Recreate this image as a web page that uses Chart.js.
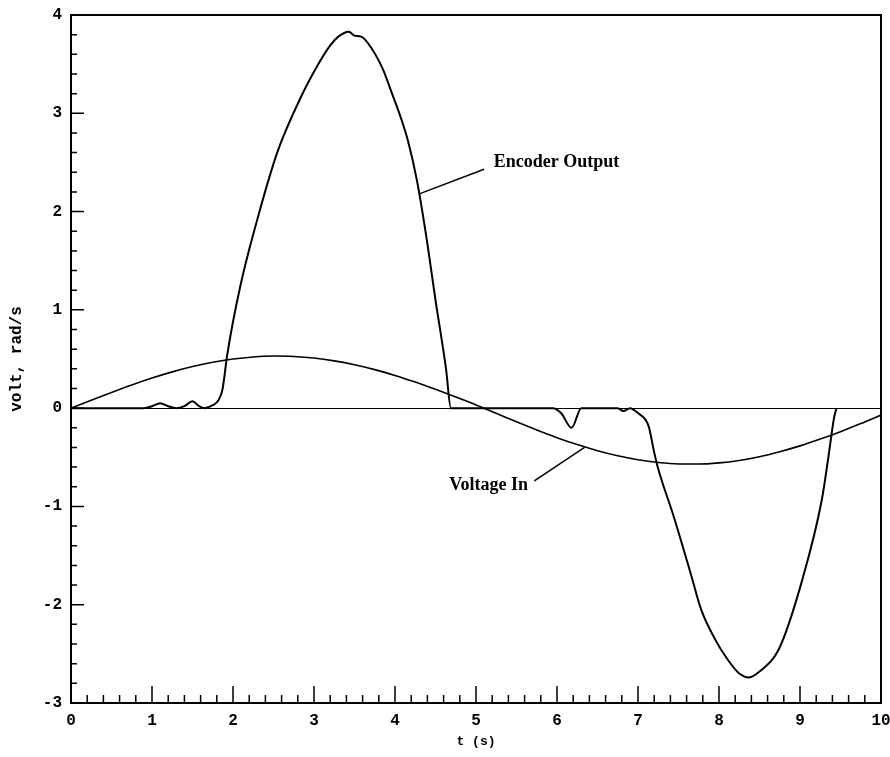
<!DOCTYPE html>
<html>
<head>
<meta charset="utf-8">
<script src="https://cdn.jsdelivr.net/npm/chart.js@4.4.1/dist/chart.umd.min.js"></script>
<style>
  html, body { margin: 0; padding: 0; background: #fff; }
</style>
</head>
<body>
<canvas id="encoderChart" width="890" height="757"></canvas>
<script>
// Encoder output (rad/s)
const encT = [0, 0.9, 1.0, 1.1, 1.2, 1.3, 1.4, 1.5, 1.58, 1.65, 1.75, 1.82, 1.87, 1.93, 2.09, 2.3, 2.55, 2.83, 3.04, 3.2, 3.3, 3.43, 3.5, 3.58, 3.66, 3.85, 3.95, 4.07, 4.16, 4.27, 4.38, 4.5, 4.63, 4.69, 5.95, 6.05, 6.18, 6.3, 6.75, 6.82, 6.9, 7.0, 7.13, 7.2, 7.25, 7.44, 7.66, 7.78, 7.95, 8.1, 8.25, 8.37, 8.5, 8.74, 9.02, 9.27, 9.35, 9.42, 9.45];
const encV = [0, 0, 0.02, 0.05, 0.02, 0, 0.02, 0.07, 0.02, 0, 0.03, 0.08, 0.19, 0.55, 1.24, 1.92, 2.61, 3.15, 3.48, 3.69, 3.78, 3.83, 3.79, 3.78, 3.72, 3.45, 3.23, 2.96, 2.72, 2.32, 1.78, 1.1, 0.4, 0, 0, -0.05, -0.2, 0, 0, -0.03, 0, -0.05, -0.18, -0.45, -0.62, -1.1, -1.71, -2.05, -2.35, -2.55, -2.7, -2.74, -2.68, -2.45, -1.77, -0.93, -0.5, -0.1, 0];

// Voltage in (volt)
const voltT = [0, 0.25, 0.5, 0.75, 1.0, 1.25, 1.5, 1.75, 2.0, 2.25, 2.5, 2.75, 3.0, 3.25, 3.5, 3.75, 4.0, 4.25, 4.5, 4.75, 5.0, 5.25, 5.5, 5.75, 6.0, 6.25, 6.5, 6.75, 7.0, 7.25, 7.5, 7.75, 8.0, 8.25, 8.5, 8.75, 9.0, 9.25, 9.5, 9.75, 10.0];
const voltV = [0, 0.081, 0.16, 0.236, 0.306, 0.369, 0.423, 0.467, 0.5, 0.521, 0.53, 0.526, 0.51, 0.481, 0.442, 0.392, 0.333, 0.265, 0.191, 0.113, 0.033, -0.053, -0.139, -0.222, -0.3, -0.371, -0.433, -0.485, -0.525, -0.553, -0.568, -0.569, -0.557, -0.532, -0.494, -0.443, -0.384, -0.315, -0.239, -0.157, -0.07];

// Labels with leader lines: [text, textX, textY, lineFromX, lineFromY, lineToX, lineToY]
const callouts = [
    ['Encoder Output', 5.22, 2.5, 5.1, 2.43, 4.3, 2.18],
    ['Voltage In', 4.67, -0.79, 5.72, -0.74, 6.34, -0.4]
];

const toPoints = (xs, ys) => xs.map((x, i) => ({ x: x, y: ys[i] }));

const monoFont = "'Liberation Mono', 'DejaVu Sans Mono', monospace";

// inward tick marks, frame and callouts
const plotDecor = {
    id: 'plotDecor',
    afterDatasetsDraw(chart) {
        const ctx = chart.ctx;
        const area = chart.chartArea;
        const xs = chart.scales.x;
        const ys = chart.scales.y;
        ctx.save();
        ctx.strokeStyle = '#000';
        ctx.lineWidth = 1.5;
        ctx.beginPath();
        for (let i = 0; i <= 50; i++) {
            const px = xs.getPixelForValue(i / 5);
            const len = i % 5 === 0 ? 17 : 8;
            ctx.moveTo(px, area.bottom);
            ctx.lineTo(px, area.bottom - len);
        }
        for (let i = -15; i <= 20; i++) {
            const py = ys.getPixelForValue(i / 5);
            const len = i % 5 === 0 ? 13 : 6;
            ctx.moveTo(area.left, py);
            ctx.lineTo(area.left + len, py);
        }
        ctx.stroke();

        ctx.lineWidth = 2;
        ctx.strokeRect(area.left, area.top, area.right - area.left, area.bottom - area.top);

        ctx.lineWidth = 1.5;
        ctx.fillStyle = '#000';
        ctx.font = "bold 18px 'Liberation Serif', 'Times New Roman', serif";
        ctx.textBaseline = 'middle';
        ctx.textAlign = 'left';
        callouts.forEach(c => {
            ctx.beginPath();
            ctx.moveTo(xs.getPixelForValue(c[3]), ys.getPixelForValue(c[4]));
            ctx.lineTo(xs.getPixelForValue(c[5]), ys.getPixelForValue(c[6]));
            ctx.stroke();
            ctx.fillText(c[0], xs.getPixelForValue(c[1]), ys.getPixelForValue(c[2]));
        });
        ctx.restore();
    }
};

const chartCtx = document.getElementById('encoderChart').getContext('2d');
new Chart(chartCtx, {
    type: 'line',
    data: {
        datasets: [{
            label: 'Encoder Output',
            data: toPoints(encT, encV),
            borderColor: '#000',
            borderWidth: 2,
            pointRadius: 0,
            cubicInterpolationMode: 'monotone'
        }, {
            label: 'Voltage In',
            data: toPoints(voltT, voltV),
            borderColor: '#000',
            borderWidth: 1.6,
            pointRadius: 0,
            cubicInterpolationMode: 'monotone'
        }]
    },
    options: {
        responsive: false,
        animation: false,
        layout: {
            padding: { left: 0, top: 15, right: 9, bottom: 0 }
        },
        plugins: {
            legend: { display: false },
            tooltip: { enabled: false }
        },
        scales: {
            x: {
                type: 'linear',
                min: 0,
                max: 10,
                afterFit: s => {
                    s.height = 54;
                    s.paddingLeft = 0;
                    s.paddingRight = 0;
                },
                ticks: {
                    stepSize: 1,
                    color: '#000',
                    padding: 8,
                    font: { family: monoFont, weight: 'bold', size: 16 }
                },
                grid: { display: false, drawTicks: false },
                border: { display: false },
                title: {
                    display: true,
                    text: 't (s)',
                    color: '#000',
                    padding: { top: 0, bottom: 7 },
                    font: { family: monoFont, weight: 'bold', size: 13 }
                }
            },
            y: {
                min: -3,
                max: 4,
                afterFit: s => {
                    s.width = 71;
                    s.paddingTop = 0;
                    s.paddingBottom = 0;
                },
                ticks: {
                    stepSize: 1,
                    color: '#000',
                    padding: 9,
                    font: { family: monoFont, weight: 'bold', size: 16 }
                },
                grid: {
                    drawTicks: false,
                    color: c => c.tick && c.tick.value === 0 ? '#000' : 'rgba(0,0,0,0)',
                    lineWidth: 1
                },
                border: { display: false },
                title: {
                    display: true,
                    text: 'volt, rad/s',
                    color: '#000',
                    padding: { top: 7, bottom: 0 },
                    font: { family: monoFont, weight: 'bold', size: 16 }
                }
            }
        }
    },
    plugins: [plotDecor]
});
</script>
</body>
</html>
